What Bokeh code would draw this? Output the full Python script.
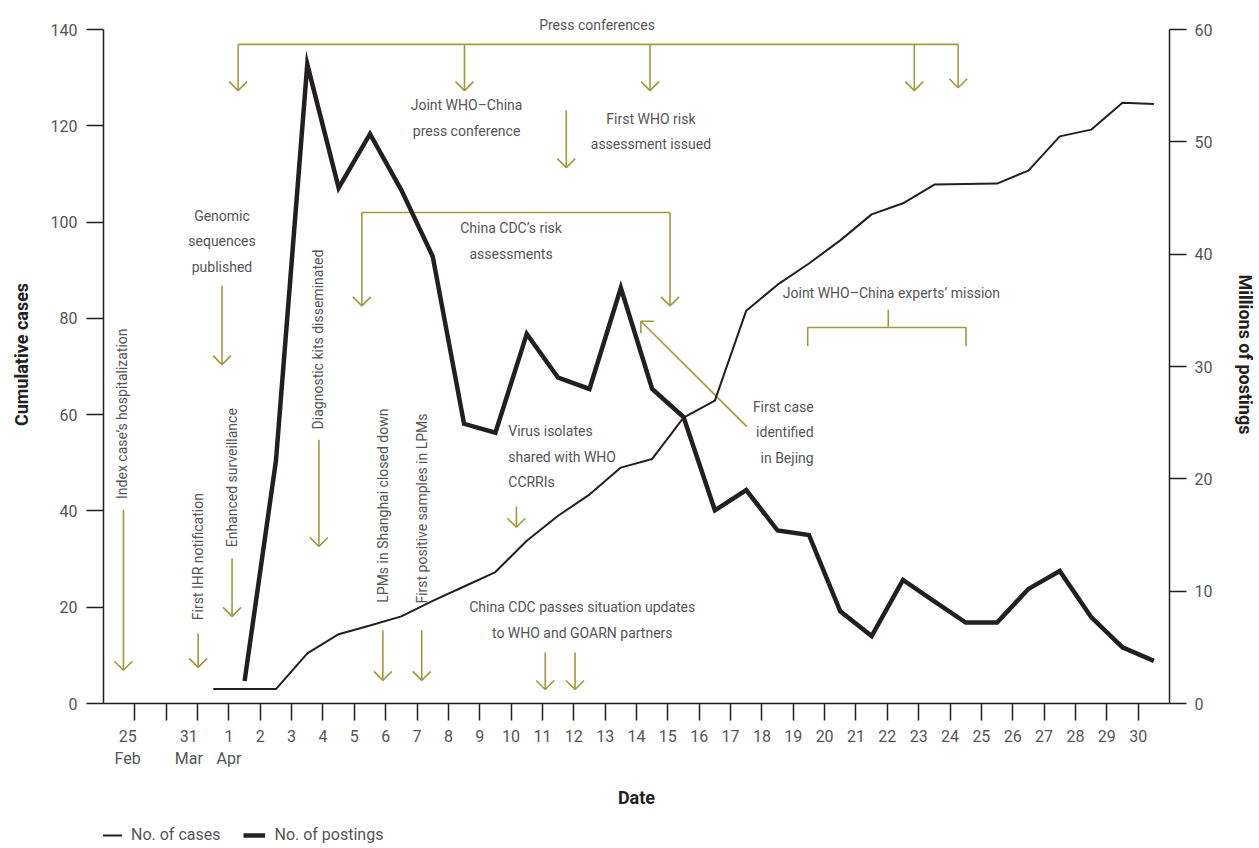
import math
from bokeh.plotting import figure
from bokeh.layouts import column
from bokeh.models import Range1d, LinearAxis, FixedTicker, Label, Legend, LegendItem
from bokeh.embed import file_html
from bokeh.resources import INLINE

# ---------------- data ----------------
date_tick_pos = list(range(1, 34))                       # tick marks
date_label_pos = [0.77, 2.72] + list(range(4, 34))       # where the labels sit
date_labels = ["25\nFeb", "31\nMar", "1\nApr", "2", "3", "4", "5", "6", "7", "8", "9",
               "10", "11", "12", "13", "14", "15", "16", "17", "18", "19", "20", "21",
               "22", "23", "24", "25", "26", "27", "28", "29", "30"]

cases_x = [3.5, 4.5, 5.5, 6.5, 7.5, 8.5, 9.5, 10.5, 11.5, 12.5, 13.5, 14.5, 15.5, 16.5,
           17.5, 18.5, 19.5, 20.5, 21.5, 22.5, 23.5, 24.5, 25.5, 26.5, 27.5, 28.5, 29.5,
           30.5, 31.5, 32.5, 33.5]
cases = [3, 3, 3, 10.4, 14.4, 16.2, 18.1, 21.3, 24.3, 27.3, 33.8, 39.0, 43.4, 49.0,
         50.8, 59.4, 62.9, 81.6, 87.0, 91.4, 96.2, 101.6, 103.9, 107.8, 107.9, 108.0,
         110.7, 117.8, 119.2, 124.8, 124.5]

postings_x = [4.5, 5.5, 6.5, 7.5, 8.5, 9.5, 10.5, 11.5, 12.5, 13.5, 14.5, 15.5, 16.5,
              17.5, 18.5, 19.5, 20.5, 21.5, 22.5, 23.5, 24.5, 25.5, 26.5, 27.5, 28.5,
              29.5, 30.5, 31.5, 32.5, 33.5]
postings = [2.0, 21.6, 56.9, 45.9, 50.7, 45.7, 39.8, 24.9, 24.1, 32.9, 29.0, 28.0, 37.0,
            28.0, 25.5, 17.2, 19.0, 15.4, 15.0, 8.2, 6.0, 11.0, 9.1, 7.2, 7.2, 10.2,
            11.8, 7.7, 5.0, 3.8]

left_ticks = [0, 20, 40, 60, 80, 100, 120, 140]
right_ticks = [0, 10, 20, 30, 40, 50, 60]

# ---------------- style ----------------
FONT = "Roboto"
INK = "#231f20"
GREY = "#555557"
OLIVE = "#a09a3c"

W = 1259
H_MAIN, H_LEG = 812, 32
LEFT, BOTTOM_Y = 103, 703          # frame left edge, y pixel of the zero line
PX_X = 1069 / 34                   # pixels per day slot
PX_Y = 674 / 140                   # pixels per case
X0, X1 = 0, 34
FRAME_W = 1069
FRAME_H = int(round(145.0 * PX_Y))  # headroom above 140 for the top caption
Y1 = FRAME_H / PX_Y
TOP = BOTTOM_Y - FRAME_H

p = figure(width=W, height=H_MAIN, output_backend="svg", toolbar_location=None,
           x_range=Range1d(X0, X1), y_range=Range1d(0, Y1),
           min_border_left=LEFT, min_border_right=W - LEFT - FRAME_W,
           min_border_top=TOP, min_border_bottom=H_MAIN - BOTTOM_Y)
p.extra_y_ranges = {"post": Range1d(0, Y1 * 60 / 140)}
p.outline_line_color = None
p.xgrid.visible = False
p.ygrid.visible = False


def style_axis(ax):
    ax.axis_line_color = INK
    ax.axis_line_width = 1.5
    ax.major_tick_line_color = INK
    ax.major_tick_line_width = 1.5
    ax.major_tick_out = 17
    ax.major_tick_in = 0
    ax.minor_tick_line_color = None
    ax.major_label_text_font = FONT
    ax.major_label_text_font_size = "16px"
    ax.major_label_text_color = GREY
    ax.axis_label_text_font = FONT
    ax.axis_label_text_font_size = "18px"
    ax.axis_label_text_font_style = "bold"
    ax.axis_label_text_color = INK


xa = p.xaxis[0]
style_axis(xa)
xa.ticker = FixedTicker(ticks=date_label_pos, minor_ticks=date_tick_pos)
xa.major_label_overrides = {t: lab for t, lab in zip(date_label_pos, date_labels)}
xa.major_tick_line_color = None          # labels ride on invisible major ticks
xa.minor_tick_line_color = INK           # visible tick marks
xa.minor_tick_line_width = 1.5
xa.minor_tick_out = 17
xa.minor_tick_in = 0
xa.axis_label = "Date"
xa.major_label_standoff = 6
xa.axis_label_standoff = 16

ya = p.yaxis[0]
ya.ticker = FixedTicker(ticks=left_ticks)
ya.bounds = (0, 140)
ya.axis_label = "Cumulative cases"
style_axis(ya)
ya.major_label_standoff = 9
ya.axis_label_standoff = 16

yr = LinearAxis(y_range_name="post", ticker=FixedTicker(ticks=right_ticks),
                axis_label="Millions of postings", bounds=(0, 60))
style_axis(yr)
yr.major_label_standoff = 8
yr.axis_label_standoff = 20
p.add_layout(yr, "right")

# ---------------- annotation lines (olive) ----------------
HX, HY = 9 / PX_X, 9 / PX_Y
xs, ys = [], []


def seg(xa_, ya_, xb, yb):
    xs.append([xa_, xb]); ys.append([ya_, yb])


def down_arrow(x, ytop, ytip):
    seg(x, ytop, x, ytip)
    xs.append([x - HX, x, x + HX]); ys.append([ytip + HY, ytip, ytip + HY])


# press conferences bracket
seg(4.294, 136.9, 27.26, 136.9)
for xx, tip in [(4.294, 127.3), (11.514, 127.3), (17.43, 127.3), (25.86, 127.3), (27.26, 127.9)]:
    down_arrow(xx, 136.9, tip)
# first WHO risk assessment
down_arrow(14.76, 123.2, 111.3)
# China CDC risk assessments bracket
seg(8.24, 102.0, 18.07, 102.0)
down_arrow(8.24, 102.0, 82.6)
down_arrow(18.07, 102.0, 82.6)
# experts' mission bracket
xs.append([22.46, 22.46, 27.51, 27.51]); ys.append([74.2, 78.1, 78.1, 74.2])
seg(25.03, 78.1, 25.03, 81.8)
# single events
down_arrow(3.78, 86.8, 70.4)     # genomic sequences
down_arrow(0.636, 40.3, 6.9)     # index case
down_arrow(3.02, 14.5, 7.5)      # IHR notification
down_arrow(4.10, 30.1, 18.1)     # enhanced surveillance
down_arrow(6.87, 54.8, 32.6)     # diagnostic kits
down_arrow(8.91, 15.2, 4.8)      # LPMs closed
down_arrow(10.15, 15.2, 4.8)     # first positive samples
down_arrow(13.17, 40.9, 36.6)    # virus isolates
down_arrow(14.09, 10.6, 2.9)     # China CDC updates
down_arrow(15.04, 10.6, 2.9)
# diagonal arrow: first case in Beijing
seg(20.52, 57.5, 17.14, 79.4)
xs.append([17.14 + 13 / PX_X, 17.14, 17.14]); ys.append([79.4, 79.4, 79.4 - 12 / PX_Y])

p.multi_line(xs, ys, line_color=OLIVE, line_width=1.6)

# ---------------- data lines ----------------
CASES_STYLE = dict(line_color=INK, line_width=2)
POST_STYLE = dict(line_color=INK, line_width=4.5, line_join="miter")
p.line(cases_x, cases, **CASES_STYLE)
p.line(postings_x, postings, y_range_name="post", **POST_STYLE)


# ---------------- texts ----------------
def label(x, y, text, align="center", angle=0):
    p.add_layout(Label(x=x, y=y, text=text, text_align=align, text_baseline="middle",
                       angle=angle, text_font=FONT, text_font_size="14px",
                       text_color=GREY, text_line_height=1.6))


R = math.pi / 2
label(15.74, 141.0, "Press conferences")
label(11.58, 121.6, "Joint WHO\u2013China\npress conference")
label(17.46, 118.8, "First WHO risk\nassessment issued")
label(13.0, 96.1, "China CDC\u2019s risk\nassessments")
label(25.13, 85.2, "Joint WHO\u2013China experts\u2019 mission")
label(3.78, 96.0, "Genomic\nsequences\npublished")
label(12.91, 51.3, "Virus isolates\nshared with WHO\nCCRRIs", align="left")
label(15.27, 17.3, "China CDC passes situation updates\nto WHO and GOARN partners")
label(22.65, 56.3, "First case\nidentified\nin Bejing", align="right")
label(0.60, 60.2, "Index case\u2019s hospitalization", angle=R)
label(3.02, 30.5, "First IHR notification", angle=R)
label(4.10, 46.9, "Enhanced surveillance", angle=R)
label(6.84, 75.6, "Diagnostic kits disseminated", angle=R)
label(8.91, 41.1, "LPMs in Shanghai closed down", angle=R)
label(10.15, 40.5, "First positive samples in LPMs", angle=R)

# ---------------- legend strip (below the chart) ----------------
q = figure(width=W, height=H_LEG, output_backend="svg", toolbar_location=None,
           x_axis_type=None, y_axis_type=None, x_range=Range1d(0, 1), y_range=Range1d(0, 1),
           min_border=0)
q.outline_line_color = None
q.xgrid.visible = False
q.ygrid.visible = False
# key samples kept outside the strip's visible range: only their legend swatches show
k_cases = q.line([-5, -4], [-5, -5], **CASES_STYLE)
k_post = q.line([-5, -4], [-5, -5], **POST_STYLE)
legend = Legend(items=[LegendItem(label="No. of cases", renderers=[k_cases]),
                       LegendItem(label="No. of postings", renderers=[k_post])],
                orientation="horizontal", location=(-3, 0),
                glyph_width=22, glyph_height=16, label_standoff=9, spacing=23,
                padding=0, margin=0, border_line_color=None, background_fill_alpha=0,
                label_text_font=FONT, label_text_font_size="16px", label_text_color=GREY)
q.add_layout(legend, "center")

page = column(p, q, spacing=0)
open("out.html", "w").write(file_html(page, INLINE))
